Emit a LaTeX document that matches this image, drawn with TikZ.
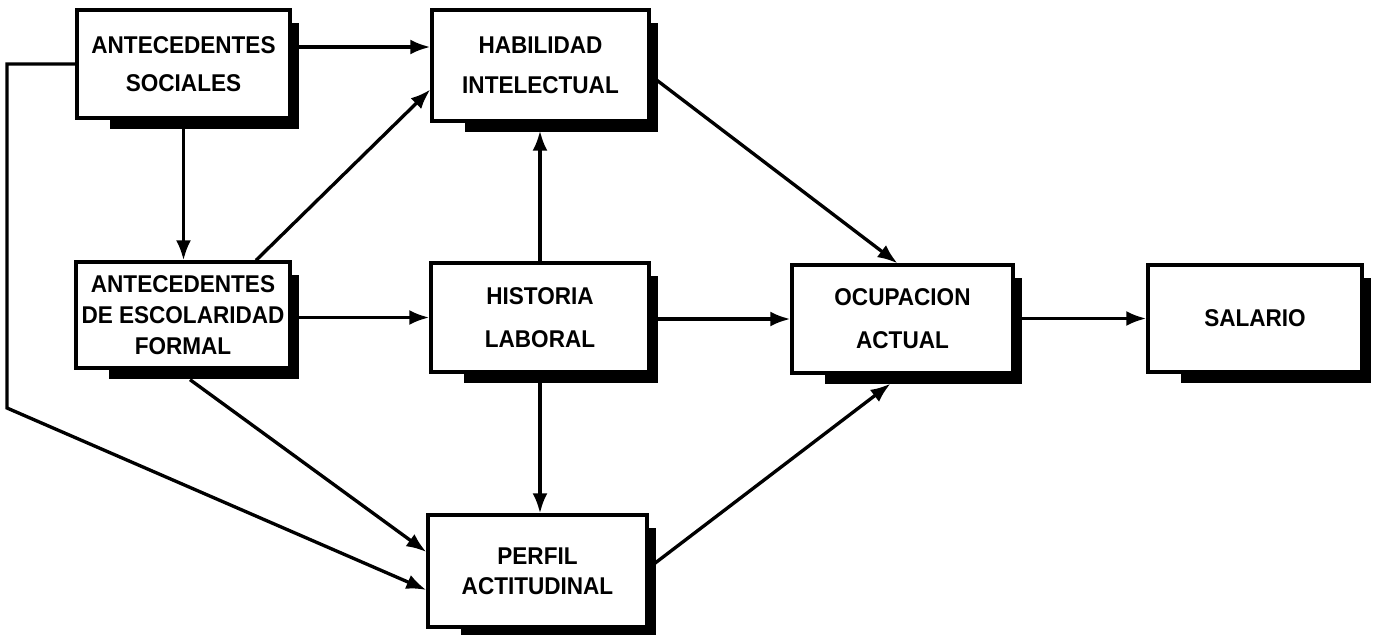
\documentclass[tikz,border=0pt]{standalone}
\usepackage{fontspec}
\setmainfont{Liberation Sans}[FakeStretch=0.93]
\usetikzlibrary{calc,arrows.meta}

\begin{document}
\begin{tikzpicture}[x=0.02cm,y=-0.02cm,font=\fontsize{13.8}{16.5}\selectfont\bfseries]
\tikzstyle{box}=[draw,line width=1.9pt,fill=white,align=center,inner sep=0pt]
\tikzstyle{arrow}=[line width=1.9pt,-{Latex[length=4mm,width=3mm]}]
\useasboundingbox (0,0) rectangle (1377,635);
\node(soc)[box,minimum width=4.26cm,minimum height=2.16cm] at (183.5,64){ANTECEDENTES\\[5pt]SOCIALES};
\node(hab)[box,minimum width=4.34cm,minimum height=2.22cm] at (540.5,65.5){HABILIDAD\\[6pt]INTELECTUAL};
\node(esc)[box,minimum width=4.28cm,minimum height=2.12cm] at (183,315){ANTECEDENTES\\[1pt]DE ESCOLARIDAD\\[1pt]FORMAL};
\node(his)[box,minimum width=4.36cm,minimum height=2.18cm] at (540,317.5){HISTORIA\\[8pt]LABORAL};
\node(per)[box,minimum width=4.38cm,minimum height=2.24cm] at (537.5,571){PERFIL\\[0.5pt]ACTITUDINAL};
\node(ocu)[box,minimum width=4.42cm,minimum height=2.16cm] at (902.5,319){OCUPACION\\[8pt]ACTUAL};
\node(sal)[box,minimum width=4.28cm,minimum height=2.14cm] at (1255,318.5){SALARIO};
\foreach \n in {soc,hab,esc,his,per,ocu,sal}{
\fill ($(\n.south west)+(35,0)$) rectangle ($(\n.south east)+(7,9)$);
\fill ($(\n.north east)+(0,15)$) rectangle ($(\n.south east)+(7,9)$);
}
\coordinate(bend) at (7,408);
\draw[arrow] ([yshift=0.34cm]soc.east) -- ([yshift=0.34cm]soc.east -| hab.west);
\draw[arrow] (soc.south) -- (soc.south |- esc.north);
\draw[arrow] ($(esc.north)+(73,0)$) -- ($(hab.west)+(0,24)$);
\draw[arrow] (his.north) -- ($(his.north |- hab.south)+(0,8)$);
\draw[arrow] (esc.east |- his.west) -- (his.west);
\draw[arrow] (his.east |- ocu.west) -- (ocu.west);
\draw[arrow] (ocu.east |- sal.west) -- (sal.west);
\draw[arrow] ($(hab.east)+(0,10)$) -- ($(ocu.north)+(-5,0)$);
\draw[arrow] (his.south) -- (his.south |- per.north);
\draw[arrow] ($(esc.south)+(7,10)$) -- ($(per.west)+(0,-19)$);
\draw[arrow] (soc.west) -| (bend) -- ($(per.west)+(0,19)$);
\draw[arrow] ($(per.east)+(0,-3)$) -- ($(ocu.south)+(-12,9)$);
\end{tikzpicture}
\end{document}
